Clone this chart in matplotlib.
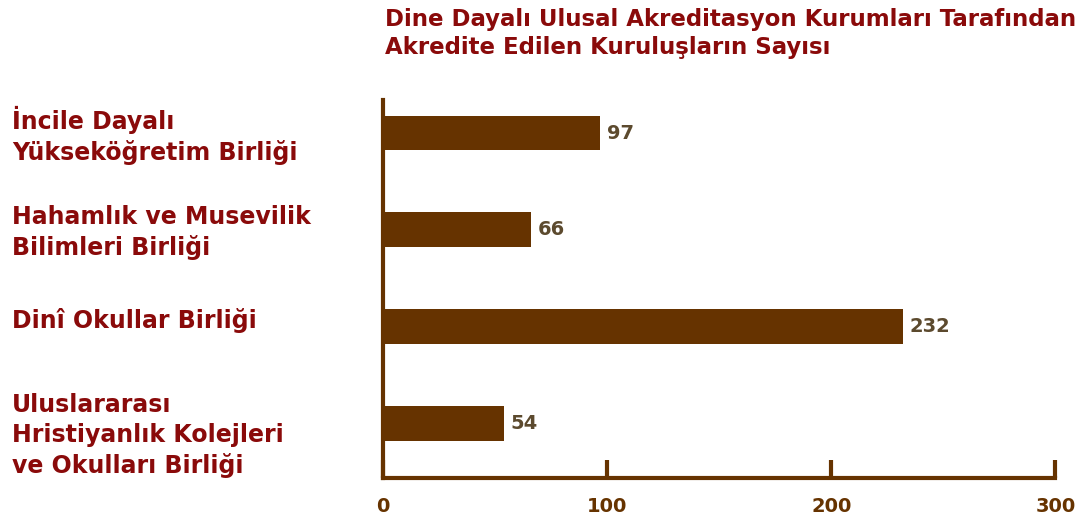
import matplotlib
matplotlib.use("Agg")
import matplotlib.pyplot as plt
from matplotlib.transforms import blended_transform_factory

title = "Dine Dayalı Ulusal Akreditasyon Kurumları Tarafından\nAkredite Edilen Kuruluşların Sayısı"
categories = [
    "İncile Dayalı\nYükseköğretim Birliği",
    "Hahamlık ve Musevilik\nBilimleri Birliği",
    "Dinî Okullar Birliği",
    "Uluslararası\nHristiyanlık Kolejleri\nve Okulları Birliği",
]
values = [97, 66, 232, 54]
xticks = [0, 100, 200, 300]

brown = "#663300"
dark_red = "#8a0a0a"

fig = plt.figure(figsize=(10.88, 5.24), dpi=100)
ax = fig.add_axes([0.352, 0.088, 0.618, 0.721])

pos = list(range(len(values)))
ax.barh(pos, values, height=0.36, color=brown)
ax.set_xlim(0, 300)
ax.set_ylim(3.56, -0.34)

for p, v in zip(pos, values):
    ax.text(v + 3, p, str(v), va="center", ha="left", fontsize=14,
            fontweight="bold", color="#5c4a2e")

# category labels on the left, left aligned
tr = blended_transform_factory(fig.transFigure, ax.transData)
for p, c in zip(pos, categories):
    nlines = c.count("\n") + 1
    ax.text(0.011, p - 0.06 + 0.09 * (nlines - 1), c, transform=tr, va="center",
            ha="left", fontsize=17, fontweight="bold", color=dark_red,
            linespacing=1.3)

for s in ["top", "right"]:
    ax.spines[s].set_visible(False)
for s in ["left", "bottom"]:
    ax.spines[s].set_color(brown)
    ax.spines[s].set_linewidth(3)
ax.set_yticks([])
ax.set_xticks(xticks)
ax.set_xticklabels([str(t) for t in xticks], fontsize=14, fontweight="bold",
                   color=brown)
ax.tick_params(axis="x", direction="in", length=13, width=3, color=brown, pad=14)

fig.text(0.354, 0.985, title, ha="left", va="top", fontsize=16.5, fontweight="bold",
         color=dark_red, linespacing=1.3)

fig.savefig("out.png", dpi=100)
